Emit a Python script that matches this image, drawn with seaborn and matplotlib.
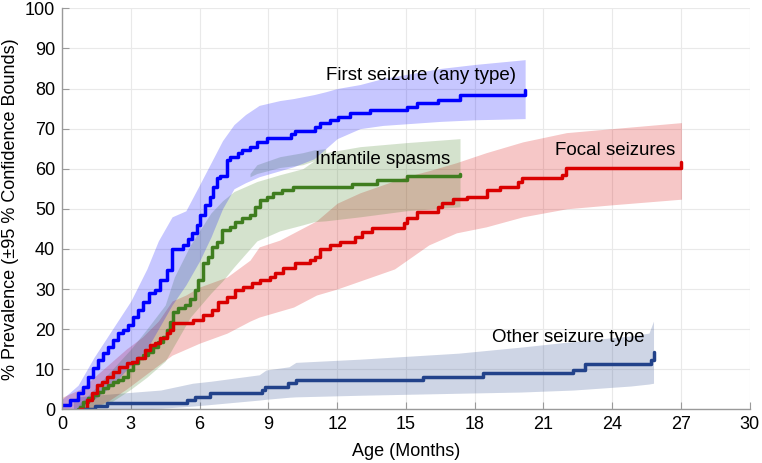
import matplotlib
matplotlib.use("Agg")
import matplotlib.pyplot as plt
import seaborn as sns
import pandas as pd

# step curves (age in months, % prevalence)
first_t = [0, 0.35, 0.71, 0.93, 1.15, 1.37, 1.58, 1.80, 2.02, 2.24, 2.46, 2.67, 2.89, 3.11, 3.33,
           3.55, 3.80, 4.06, 4.27, 4.56, 4.78, 5.29, 5.51, 5.66, 5.88, 6.02, 6.24, 6.45, 6.60, 6.74,
           6.89, 7.18, 7.33, 7.69, 7.84, 8.20, 8.49, 8.93, 10.0, 10.16, 11.03, 11.25, 11.69, 12.05,
           12.56, 13.43, 15.03, 15.47, 16.41, 17.36, 20.19]
first_v = [1, 2.3, 4, 5.6, 8.1, 10.2, 12.3, 14, 15.6, 17.3, 19, 19.8, 21, 23, 24.8,
           26.8, 28.9, 29.7, 32.2, 34.7, 39.9, 41, 42.5, 44, 46, 48.4, 51, 53, 55.5, 57.6,
           58.3, 62.2, 63, 63.8, 64.6, 65.5, 66.7, 67.6, 68.6, 69.5, 70.5, 71.3, 72.1, 72.9,
           73.8, 74.6, 75.4, 76.3, 77.1, 78.4, 79.6]

spasm_t = [0.71, 0.78, 0.93, 1.15, 1.37, 1.58, 1.80, 2.02, 2.24, 2.46, 2.67, 2.89, 3.11, 3.33,
           3.55, 3.76, 3.98, 4.20, 4.42, 4.56, 4.71, 4.86, 5.07, 5.36, 5.58, 5.80, 5.95, 6.16,
           6.38, 6.52, 6.74, 6.96, 7.33, 7.55, 7.84, 8.20, 8.42, 8.64, 8.95, 9.20, 9.58, 10.09,
           12.63, 13.72, 15.03, 17.36]
spasm_v = [0, 0.65, 1.9, 2.7, 3.6, 4.4, 5.2, 6.1, 6.9, 7.3, 8.1, 9.8, 11.5, 12.7,
           13.5, 14.4, 15.6, 16.9, 18.1, 19.8, 21.8, 24.3, 25.2, 26, 27.5, 29.7, 32.3, 36.4,
           38, 40.5, 41.8, 44.7, 45.5, 46.8, 47.6, 48.4, 50.5, 52.2, 53, 53.9, 54.7, 55.5,
           56.3, 57.2, 58.2, 58.6]

focal_t = [0.8, 1.1, 1.29, 1.51, 1.73, 1.95, 2.24, 2.5, 2.82, 3.04, 3.25, 3.62, 3.84, 4.06,
           4.27, 4.56, 4.71, 4.86, 5.73, 6.16, 6.52, 6.8, 7.18, 7.54, 7.9, 8.27, 8.63, 9.07,
           9.29, 9.65, 10.16, 10.8, 11.04, 11.25, 11.69, 12.13, 12.78, 13.07, 13.5, 14.9,
           15.03, 15.47, 16.41, 16.56, 17.07, 17.65, 18.52, 19.1, 19.9, 20.05, 21.8, 22.0, 27.02]
focal_v = [0, 2.3, 4, 6.1, 6.9, 8.1, 9.4, 10.6, 11.5, 11.9, 12.7, 14.8, 16.1, 16.5,
           17.7, 19, 19.8, 21.4, 22.3, 23.5, 24.8, 26.8, 28, 29.7, 30.6, 31.4, 32.2, 32.9,
           33.9, 35.2, 36.6, 37.2, 38, 40.1, 40.9, 41.8, 43, 44.3, 45.1, 46.4,
           47.6, 49.3, 50.5, 51.5, 52.4, 53, 54.6, 55.5, 56.8, 57.6, 58.4, 60.1, 61.6]

other_t = [1.0, 1.44, 1.95, 5.44, 5.80, 6.45, 8.71, 8.85, 9.87, 10.2, 15.75, 18.37, 22.3, 22.8, 25.7, 25.8]
other_v = [0, 0.8, 1.5, 2.3, 3.1, 4.0, 4.8, 5.6, 6.5, 7.3, 8.1, 9.0, 9.8, 11.3, 12.3, 14.3]

# 95 % confidence bounds
first_ci_t = [0, 0.7, 1.4, 2.2, 3.0, 3.7, 4.2, 4.8, 5.4, 6.0, 6.5, 7.0, 7.5, 8.0, 8.6, 9.5,
              10.1, 11.0, 11.5, 12.0, 13.0, 14.0, 16.5, 18.0, 20.2]
first_lo = [0, 0, 2.5, 6, 11, 15, 20, 26, 31, 37, 43, 50, 55, 56.5, 58, 59.5,
            60.5, 62.5, 65, 67.5, 70, 70.8, 71.8, 72.2, 72.5]
first_hi = [2.5, 6, 13, 20, 27, 35, 42, 48, 49.5, 56, 61.5, 67, 71, 73.5, 75.8, 77,
            77.5, 78.5, 79.2, 80, 81, 82.5, 85, 86, 87.2]

spasm_ci_t = [0.7, 1.4, 2.2, 3.0, 3.7, 4.5, 4.9, 5.6, 6.5, 7.0, 7.5, 8.5, 9.5, 10.5, 11.0,
              11.5, 13.0, 15.0, 17.36]
spasm_lo = [0, 0.5, 2, 5, 8, 12, 16, 23, 29, 32, 35.5, 42, 44.5, 46, 46.8,
            47, 48, 49.5, 50.5]
spasm_hi = [1, 5, 10, 15, 20, 26, 33, 41, 49, 52, 54.3, 56.8, 58.5, 60, 62,
            64, 65.5, 66.5, 67.5]
# detached upper sliver of the spasms band
spasm_strip_t = [8.2, 8.5, 9.5, 10.5, 11.0, 11.5]
spasm_strip_lo = [58, 58.8, 60.3, 61, 62, 64]
spasm_strip_hi = [58.8, 61, 63, 64, 64.7, 65]

focal_ci_t = [0, 0.8, 1.4, 2.0, 2.8, 3.5, 4.2, 4.8, 5.4, 6.0, 7.2, 8.2, 8.6, 9.5, 10.1, 11.1,
              12.0, 13.0, 14.5, 15.0, 16.0, 17.2, 18.5, 20.1, 22.0, 24.0, 27.02]
focal_lo = [0, 0, 0.5, 2, 5, 8, 11, 13.5, 15, 16.5, 19, 22, 23, 24.5, 25.5, 28.5,
            30, 32, 35, 37, 41, 44, 45.5, 48, 50, 51, 52.4]
focal_hi = [3, 5, 8, 11, 15, 18, 22, 27, 28.5, 30.5, 33, 37.2, 40.5, 42.2, 44, 47,
            51.4, 54, 57, 58, 59.5, 61.5, 64, 66.7, 69, 70, 71.5]

other_ci_t = [0.5, 0.7, 1.4, 2.5, 4.3, 5.7, 6.5, 8.6, 8.9, 9.9, 10.2, 13.0, 17.3, 20.0,
              22.3, 24.8, 25.6, 25.8]
other_lo = [0, 0, 0, 0, 0.25, 0.8, 1.2, 2.3, 2.5, 3.0, 3.1, 3.5, 4.0, 4.3,
            4.8, 5.8, 6.3, 6.5]
other_hi = [2.5, 3.1, 3.5, 4.0, 4.8, 6.5, 7.0, 8.6, 9.8, 10.6, 11.7, 12.5, 14.0, 15.5,
            16.9, 18.3, 19, 22]

names = ["First seizure (any type)", "Infantile spasms", "Focal seizures", "Other seizure type"]
colors = {names[0]: "#0000ff", names[1]: "#3f7d1f", names[2]: "#d90000", names[3]: "#22428a"}

sns.set_theme(style="whitegrid")
plt.rcParams["font.family"] = ["Liberation Sans", "DejaVu Sans"]
plt.rcParams["text.color"] = "black"
plt.rcParams["axes.labelcolor"] = "black"

fig = plt.figure(figsize=(7.62, 4.63), dpi=100)
ax = fig.add_axes([0.0814, 0.116, 0.9026, 0.866])

a = 0.22
ax.fill_between(other_ci_t, other_lo, other_hi, color=colors[names[3]], alpha=a, lw=0)
ax.fill_between(focal_ci_t, focal_lo, focal_hi, color=colors[names[2]], alpha=a, lw=0)
ax.fill_between(spasm_ci_t, spasm_lo, spasm_hi, color=colors[names[1]], alpha=a, lw=0)
ax.fill_between(spasm_strip_t, spasm_strip_lo, spasm_strip_hi, color=colors[names[1]], alpha=a, lw=0)
ax.fill_between(first_ci_t, first_lo, first_hi, color=colors[names[0]], alpha=a, lw=0)

df = pd.concat([
    pd.DataFrame({"t": first_t, "v": first_v, "s": names[0]}),
    pd.DataFrame({"t": spasm_t, "v": spasm_v, "s": names[1]}),
    pd.DataFrame({"t": focal_t, "v": focal_v, "s": names[2]}),
    pd.DataFrame({"t": other_t, "v": other_v, "s": names[3]}),
])
for n in names:
    sns.lineplot(data=df[df.s == n], x="t", y="v", color=colors[n], lw=2.5,
                 drawstyle="steps-post", estimator=None, sort=False, ax=ax)

ax.text(15.64, 83.2, names[0], fontsize=13.5, ha="center", va="center", color="black")
ax.text(14.0, 62.3, names[1], fontsize=13.5, ha="center", va="center", color="black")
ax.text(24.12, 64.5, names[2], fontsize=13.5, ha="center", va="center", color="black")
ax.text(22.1, 17.8, names[3], fontsize=13.5, ha="center", va="center", color="black")

ax.set_xlim(0, 30)
ax.set_ylim(0, 100)
ax.set_xticks(range(0, 31, 3))
ax.set_yticks(range(0, 101, 10))
ax.grid(True, color="#e9e9e9", lw=0.8)
for side in ["top", "right"]:
    ax.spines[side].set_visible(False)
for side in ["left", "bottom"]:
    ax.spines[side].set_color("#9a9a9a")
    ax.spines[side].set_linewidth(1.0)
ax.tick_params(direction="in", length=5, width=0.8, color="#9a9a9a", labelsize=13,
               labelcolor="black", pad=5, left=True, bottom=True)
ax.set_xlabel("Age (Months)", fontsize=13, labelpad=7, color="black")
ax.set_ylabel("% Prevalence (±95 % Confidence Bounds)", fontsize=13, labelpad=4, color="black")

fig.savefig("out.png", dpi=100)
